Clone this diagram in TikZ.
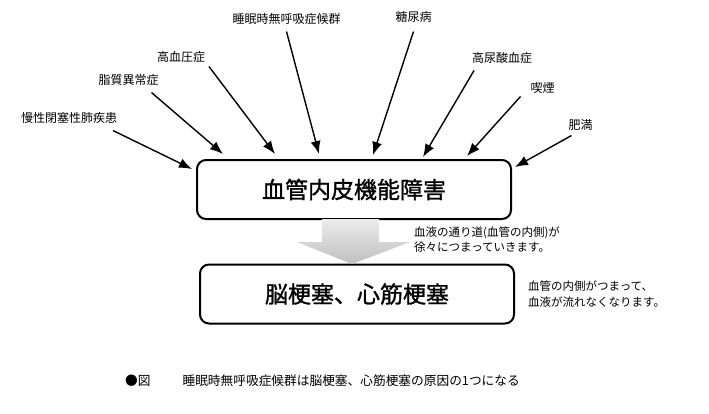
\documentclass[tikz,border=0pt]{standalone}
\usepackage{fontspec}
\newfontfamily\jp{Noto Sans CJK JP}
\newfontfamily\jpbox[FakeBold=1.2]{Noto Sans CJK JP}
\usetikzlibrary{arrows.meta, positioning}

\begin{document}
\begin{tikzpicture}[
    x=1pt, y=-1pt,
    cause/.style={font=\jp\fontsize{12}{14}\selectfont, inner sep=2pt, outer sep=5pt},
    stage/.style={rectangle, draw, rounded corners=9pt, line width=2pt, minimum width=314pt, minimum height=59pt, font=\jpbox\fontsize{23}{27}\selectfont},
    note/.style={font=\jp\fontsize{11.5}{15.5}\selectfont, align=left, anchor=west, inner sep=0pt},
    arrow/.style={-{Latex[length=13pt,width=10pt]}, line width=1.4pt}
]
\useasboundingbox (0,0) rectangle (709,413);

% 原因
\node[cause] (copd) at (69,118) {慢性閉塞性肺疾患};
\node[cause] (lipid) at (128.5,80) {脂質異常症};
\node[cause] (hbp) at (181,57) {高血圧症};
\node[cause] (sas) at (286.5,19) {睡眠時無呼吸症候群};
\node[cause] (dm) at (413.5,17) {糖尿病};
\node[cause] (hua) at (502,58) {高尿酸血症};
\node[cause] (smoke) at (542.5,88) {喫煙};
\node[cause] (obes) at (580.5,125) {肥満};

% 箱
\node[stage] (endo) at (354,189.5) {血管内皮機能障害};
\node[stage] (infarct) at (357,294) {脳梗塞、心筋梗塞};

% 矢印の先
\coordinate (e1) at (192,169);
\coordinate (e2) at (223,154);
\coordinate (e3) at (275,154);
\coordinate (e4) at (319,154);
\coordinate (e5) at (373,155);
\coordinate (e6) at (423,157);
\coordinate (e7) at (467,156);
\coordinate (e8) at (515,167);

\draw[arrow] ([xshift=44pt]copd.south) -- (e1);
\draw[arrow] ([xshift=23pt]lipid.south) -- (e2);
\draw[arrow] ([xshift=28pt, yshift=3pt]hbp.south) -- (e3);
\draw[arrow] (sas.south) -- (e4);
\draw[arrow] ([yshift=-2pt]dm.south) -- (e5);
\draw[arrow] ([xshift=-28pt]hua.south) -- (e6);
\draw[arrow] ([xshift=-22pt, yshift=4pt]smoke.south) -- (e7);
\draw[arrow] ([xshift=-9pt, yshift=2pt]obes.south) -- (e8);

% 下向きの矢印
\shade[top color=gray!15, bottom color=gray!50]
    (322,219) -- (379,219) -- (379,242) -- (410,242) -- (352,264)
    -- (297,242) -- (322,242) -- cycle;

% 説明
\node[note] (note1) at (414,239.5) {血液の通り道(血管の内側)が\\徐々につまっていきます。};
\node[note] (note2) at (528,294) {血管の内側がつまって、\\血液が流れなくなります。};

% 図の説明
\node[anchor=west, inner sep=0pt, font=\jp\fontsize{12.7}{15}\selectfont] (caption) at (125,381)
    {●図\hspace{32pt}睡眠時無呼吸症候群は脳梗塞、心筋梗塞の原因の1つになる};

\end{tikzpicture}
\end{document}
